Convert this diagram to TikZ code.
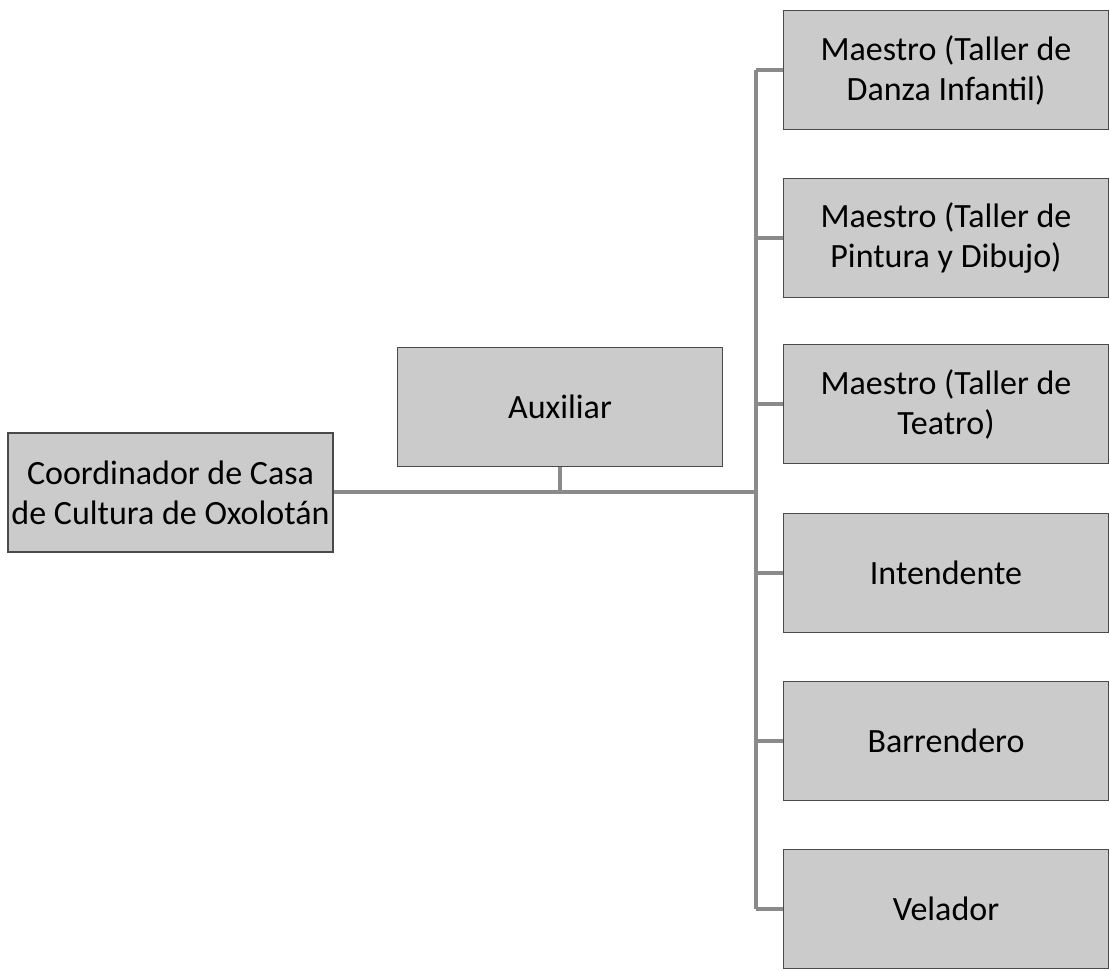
\documentclass[tikz,border=0pt]{standalone}
\usepackage{fontspec}
\setmainfont{Carlito}
\definecolor{boxfill}{HTML}{CBCBCB}
\definecolor{boxline}{HTML}{4A4A4A}
\definecolor{conn}{HTML}{8A8A8A}
\begin{document}
\begin{tikzpicture}[x=1pt,y=-1pt,
  orgbox/.style={rectangle, fill=boxfill, draw=boxline, line width=1.8pt,
    minimum width=325pt, minimum height=119pt, inner sep=2pt, align=center,
    text=black, font=\fontsize{34}{40}\selectfont},
  link/.style={draw=conn, line width=3.4pt}]
\fill[white] (0,0) rectangle (1110,970);
\useasboundingbox (0,0) rectangle (1110,970);

\coordinate (sp1) at (756,70);
\coordinate (sp6) at (756,909);
\coordinate (hub) at (756,492);

\node[orgbox] (coord) at (170.5,492.5) {Coordinador de Casa\\de Cultura de Oxolotán};
\node[orgbox] (aux) at (560,407) {Auxiliar};

\node[orgbox] (m1) at (946,70) {Maestro (Taller de\\Danza Infantil)};
\node[orgbox] (m2) at (946,238) {Maestro (Taller de\\Pintura y Dibujo)};
\node[orgbox] (m3) at (946,404) {Maestro (Taller de\\Teatro)};
\node[orgbox] (int) at (946,573) {Intendente};
\node[orgbox] (bar) at (946,741) {Barrendero};
\node[orgbox] (vel) at (946,909) {Velador};

\draw[link] (coord.east |- hub) -- (hub);
\draw[link] (aux.south) -- (aux.south |- hub);
\draw[link] (sp1) -- (sp6);
\foreach \n in {m1,m2,m3,int,bar,vel}
  \draw[link] (\n.west) -- (sp1 |- \n.west);
\end{tikzpicture}
\end{document}
